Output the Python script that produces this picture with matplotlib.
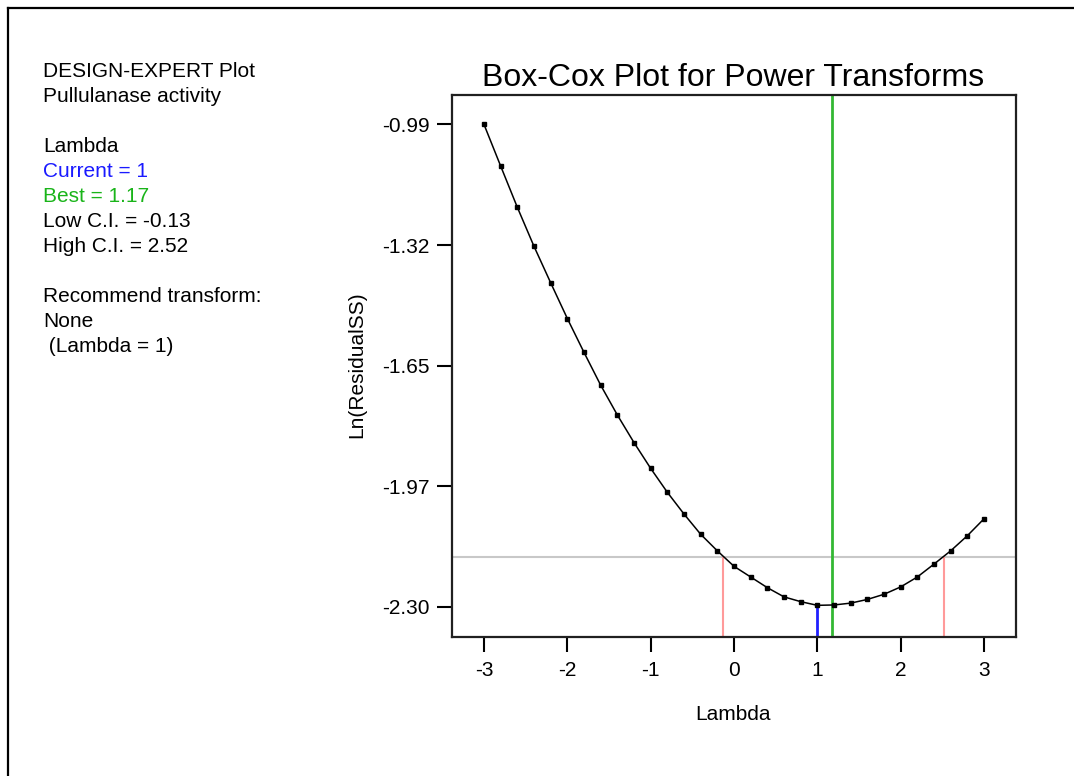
import numpy as np
import matplotlib.pyplot as plt

plt.rcParams['font.family'] = ['Liberation Sans', 'DejaVu Sans']

# Box-Cox results: lambda grid and Ln(ResidualSS) at each lambda
lambdas = [-3.0, -2.8, -2.6, -2.4, -2.2, -2.0, -1.8, -1.6, -1.4, -1.2, -1.0,
           -0.8, -0.6, -0.4, -0.2, 0.0, 0.2, 0.4, 0.6, 0.8, 1.0,
           1.2, 1.4, 1.6, 1.8, 2.0, 2.2, 2.4, 2.6, 2.8, 3.0]
ln_ss = [-0.990, -1.103, -1.215, -1.321, -1.420, -1.517, -1.609, -1.698, -1.779, -1.854, -1.924,
         -1.989, -2.048, -2.103, -2.148, -2.190, -2.219, -2.248, -2.273, -2.286, -2.296,
         -2.295, -2.290, -2.280, -2.266, -2.246, -2.219, -2.184, -2.148, -2.107, -2.061]

current_lambda = 1.0
best_lambda = 1.17
low_ci = -0.13
high_ci = 2.52
ci_level = -2.166

y_ticks = [-0.99, -1.3175, -1.645, -1.9725, -2.30]
y_tick_labels = ["-0.99", "-1.32", "-1.65", "-1.97", "-2.30"]
x_ticks = [-3, -2, -1, 0, 1, 2, 3]

info_lines = [
    ("DESIGN-EXPERT Plot", "black"),
    ("Pullulanase activity", "black"),
    ("", "black"),
    ("Lambda", "black"),
    ("Current = 1", "#1a1aff"),
    ("Best = 1.17", "#19b419"),
    ("Low C.I. = -0.13", "black"),
    ("High C.I. = 2.52", "black"),
    ("", "black"),
    ("Recommend transform:", "black"),
    ("None", "black"),
    (" (Lambda = 1)", "black"),
]

W, H = 1074, 776
fig = plt.figure(figsize=(W / 100, H / 100), dpi=100)
ax = fig.add_axes([452 / W, 1 - 637 / H, (1016 - 452) / W, (637 - 95) / H])

ymin, ymax = -2.382, -0.910
ax.set_xlim(-3.384, 3.384)
ax.set_ylim(ymin, ymax)

# reference lines
ax.axhline(ci_level, color='#c8c8c8', lw=1.5, zorder=1)
ax.vlines([low_ci, high_ci], ymin, ci_level, color='#ff9a9a', lw=1.5, zorder=1)
ax.vlines(current_lambda, ymin, ln_ss[lambdas.index(current_lambda)],
          color='#2020ff', lw=2, zorder=1)
ax.axvline(best_lambda, color='#33b833', lw=2, zorder=1)

ax.plot(lambdas, ln_ss, color='black', lw=1.1, marker='s', markersize=3.2,
        mfc='black', mec='black', zorder=3)

ax.set_xticks(x_ticks)
ax.set_xticklabels([str(t) for t in x_ticks])
ax.set_yticks(y_ticks)
ax.set_yticklabels(y_tick_labels)
ax.tick_params(axis='both', direction='out', length=11, width=1.5, labelsize=15, color='black')
ax.tick_params(axis='y', pad=5)
ax.tick_params(axis='x', pad=6)
for s in ax.spines.values():
    s.set_linewidth(1.6)
    s.set_color('#202020')

fig.text(733 / W, 1 - 86 / H, "Box-Cox Plot for Power Transforms", fontsize=23,
         ha='center', va='baseline')
fig.text(733 / W, 1 - 714 / H, "Lambda", fontsize=15, ha='center', va='center')
fig.text(357 / W, 1 - 365 / H, "Ln(ResidualSS)", fontsize=15, rotation=90,
         ha='center', va='center')

# left-hand summary block
for i, (txt, col) in enumerate(info_lines):
    if txt:
        fig.text(43 / W, 1 - (77 + 25 * i) / H, txt, fontsize=15, color=col,
                 ha='left', va='baseline')

# outer frame (left and top edges)
fig.add_artist(plt.Line2D([8 / W, 8 / W], [0, 1 - 8 / H], color='black', lw=1.6,
                          transform=fig.transFigure))
fig.add_artist(plt.Line2D([8 / W, 1], [1 - 8 / H, 1 - 8 / H], color='black', lw=1.6,
                          transform=fig.transFigure))

fig.savefig('out.png', dpi=100)
